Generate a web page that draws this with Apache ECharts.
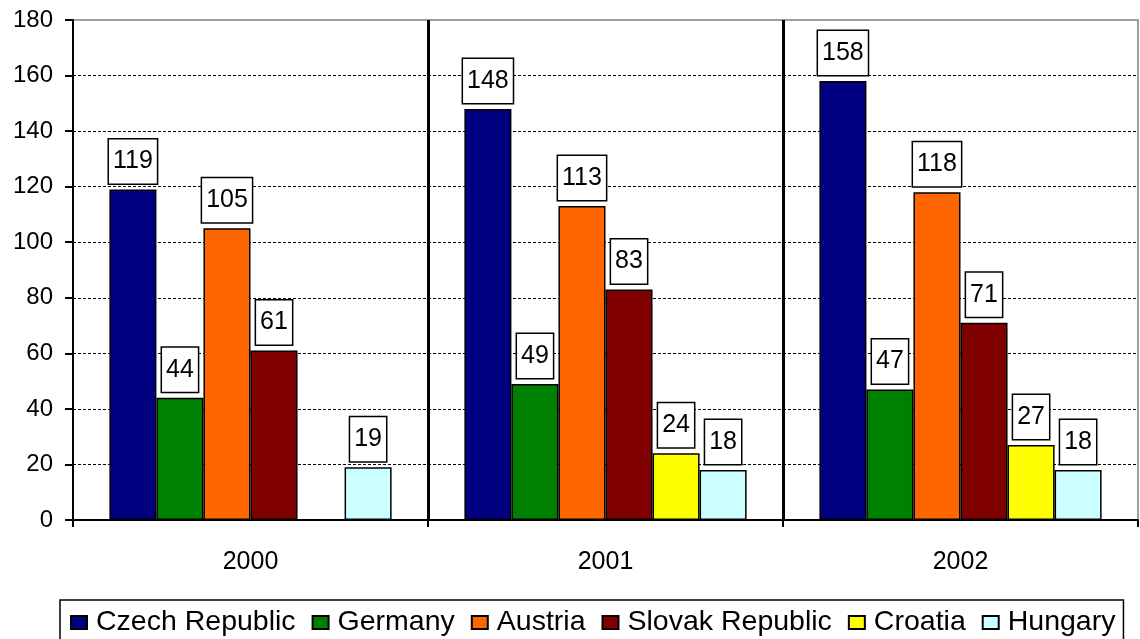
<!DOCTYPE html>
<html>
<head>
<meta charset="utf-8">
<script src="https://cdn.jsdelivr.net/npm/echarts@6/dist/echarts.min.js"></script>
<style>
html,body{margin:0;padding:0;background:#fff;}
#chart{width:1140px;height:639px;}
</style>
</head>
<body>
<div id="chart"></div>
<script>
const years = ['2000', '2001', '2002'];
const seriesNames = ['Czech Republic', 'Germany', 'Austria', 'Slovak Republic', 'Croatia', 'Hungary'];
const czech = [119, 148, 158];
const germany = [44, 49, 47];
const austria = [105, 113, 118];
const slovak = [61, 83, 71];
const croatia = [null, 24, 27];
const hungary = [19, 18, 18];
const colors = ['#000080', '#008000', '#FF6600', '#800000', '#FFFF00', '#CCFFFF'];
const yTicks = { min: 0, max: 180, interval: 20 };

const valuesList = [czech, germany, austria, slovak, croatia, hungary];
const FONT = '"Liberation Sans", Arial, sans-serif';

const chart = echarts.init(document.getElementById('chart'));
chart.setOption({
  animation: false,
  backgroundColor: '#fff',
  grid: {
    left: 73, right: 2, top: 20, bottom: 119,
    show: true, borderColor: '#a0a0a0', borderWidth: 2, backgroundColor: 'transparent'
  },
  legend: {
    data: seriesNames,
    left: 60, top: 600,
    orient: 'horizontal',
    icon: 'rect',
    itemWidth: 16, itemHeight: 13, itemGap: 16,
    padding: [8, 8, 20, 10],
    borderColor: '#000', borderWidth: 1.5,
    textStyle: { fontFamily: FONT, fontSize: 28.5, color: '#000', padding: [0, 0, 0, 4] }
  },
  xAxis: {
    type: 'category',
    data: years,
    boundaryGap: true,
    axisLine: { lineStyle: { color: '#000', width: 2 } },
    axisTick: { show: true, length: 7, lineStyle: { color: '#000', width: 2 } },
    axisLabel: { fontFamily: FONT, fontSize: 25, color: '#000', margin: 30 },
    splitLine: { show: true, interval: 0, showMinLine: false, showMaxLine: false, lineStyle: { color: '#000', width: 3 } }
  },
  yAxis: {
    type: 'value',
    min: yTicks.min, max: yTicks.max, interval: yTicks.interval,
    axisLine: { show: true, lineStyle: { color: '#000', width: 2 } },
    axisTick: { show: true, length: 8, lineStyle: { color: '#000', width: 2 } },
    axisLabel: { fontFamily: FONT, fontSize: 24, color: '#000', margin: 20 },
    splitLine: { show: true, showMinLine: false, showMaxLine: false, lineStyle: { color: '#000', width: 1, type: [3, 2] } }
  },
  series: seriesNames.map((name, i) => ({
    name: name,
    type: 'bar',
    data: valuesList[i],
    barGap: '0%',
    barCategoryGap: '20.5%',
    itemStyle: { color: colors[i], borderColor: '#000', borderWidth: 1.5 },
    label: {
      show: true,
      position: 'top',
      distance: 6,
      fontFamily: FONT,
      fontSize: 25,
      color: '#000',
      lineHeight: 28,
      backgroundColor: '#fff',
      borderColor: '#000',
      borderWidth: 1.5,
      padding: [8, 4, 8, 4]
    }
  }))
});
</script>
</body>
</html>
